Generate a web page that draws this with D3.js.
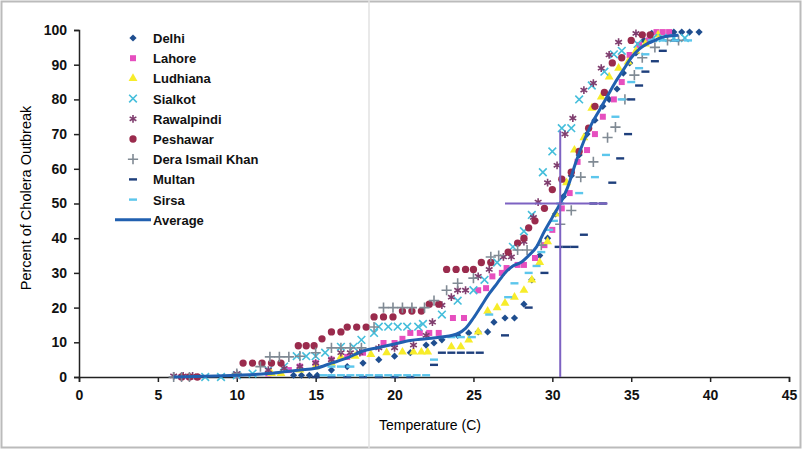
<!DOCTYPE html>
<meta charset="utf-8">
<style>
  body { margin: 0; background: #fff; }
  svg { display: block; font-family: "Liberation Sans", Arial, sans-serif; }
  .tick text { font-weight: bold; font-size: 14px; fill: #111; }
  .legend text { font-weight: bold; font-size: 13px; fill: #111; }
</style>
<body></body>
<script src="https://d3js.org/d3.v7.min.js"></script>
<script>

var width = 802, height = 449;

// temperature (C), percent of cholera outbreak
var delhi = [[13.6,0.5],[14.1,0.5],[14.6,0.5],[15.1,0.5],[16,2],[17,3],[18,4],[19,5],[20,6],[21,7],[22,9.2],[22.5,9.8],[23,10.7],[24,12],[24.7,12.7],[25.3,13],[25.9,13],[26.3,15.8],[27,17],[27.6,17],[28.2,21],[28.7,28],[29.2,35],[29.7,40],[30.2,47],[30.7,52],[31.2,58],[31.7,64],[32.2,70],[32.7,74],[33.2,78],[33.6,80],[34.1,83],[34.5,87.6],[34.9,90.5],[35.3,93.4],[35.8,97],[36.3,99],[37.7,99.4],[38.2,99.4],[38.7,99.4],[39.3,99.4]];
var lahore = [[6.5,0],[7,0],[7.5,0],[10,0.5],[12,1],[13.3,2],[14,3],[15,4],[16,5],[17,5.8],[18,7],[19.3,9.8],[20,9.8],[20.5,11],[21,12.7],[21.6,12.7],[22.2,12.7],[22.8,12.7],[23.7,17],[24.4,17],[25.3,25],[25.8,25.6],[26.2,29],[26.8,30],[27.1,31.4],[27.8,32.3],[28.2,32.3],[28.9,34.3],[29.5,38],[30,42.4],[30.6,48.6],[31.1,53],[31.6,62],[32.2,65.4],[32.7,70],[33.2,75],[33.9,80],[34.4,85],[34.9,92.8],[35.5,95.7],[36.1,97],[36.6,99.4],[37,99.4],[37.4,99.4]];
var ludhiana = [[12.2,1],[12.8,1],[14,2],[15,3],[16,4],[16.6,5.8],[17.5,6],[18.5,6.5],[19.5,7],[20.5,7.2],[21.2,7.2],[21.7,7.2],[22.1,7.2],[23.6,8.7],[24.2,8.7],[24.7,10.7],[25.3,13],[25.9,19],[26.5,20],[27,21.3],[27.6,23],[28.2,25],[28.7,28],[29.2,33],[29.7,39],[30.2,47],[30.9,56],[31.4,65.4],[32,69],[32.5,77.5],[33.1,80.7],[33.6,86.5],[34.2,89],[34.8,90.8],[35.3,94],[35.9,96],[36.7,98.6]];
var sialkot = [[8,0],[9,0],[10,0.5],[11,1],[12,2],[13,3],[13.8,6],[14.4,6],[15,6],[15.6,7],[16.6,8.7],[17.4,8.7],[17.9,10.7],[18.7,12.7],[19,14.5],[19.6,14.5],[20.2,14.5],[20.8,14.5],[21.5,14.5],[21.8,15.3],[23,18],[24,22],[25,25],[25.7,28],[26.5,33],[27.5,37.5],[28.2,42],[28.7,46.7],[29.4,59],[30,65],[30.6,71.7],[31.2,71.7],[31.7,80],[32.5,84],[33.3,88],[33.9,93],[34.4,94],[35.4,96],[36.4,97.7],[37,97.7],[37.7,97.7],[38.4,97.7]];
var rawalpindi = [[6,0.3],[6.6,0.3],[7.2,0.3],[10,1],[12,2],[13,2.5],[14,3],[15,4],[16,5],[16.6,7],[17.2,7],[17.8,7],[19,8.4],[20,8.4],[21.2,9.2],[22,12],[22.4,15.8],[23,20.7],[23.6,23],[24,25],[24.5,25],[25.3,29],[26,31],[26.9,34.6],[27.4,34.6],[28.2,39],[28.8,46],[29.1,50.4],[29.7,56],[30.3,61],[30.8,70],[31.3,74.6],[32,82.7],[32.6,84.7],[33.1,89],[33.6,92.8],[34.2,96.5],[35.3,99]];
var peshawar = [[6.5,0],[7,0],[7.5,0],[10.4,4],[11,4],[11.6,4],[12.2,4],[12.8,4],[13.9,9],[14.4,9],[14.9,9],[15.4,11],[16,13],[16.6,13],[17,14.4],[17.6,14.4],[18.2,14.4],[18.7,17.3],[19.3,17.3],[19.9,17.3],[20.5,19],[21.1,19],[21.7,19],[22.2,21],[22.8,21],[23.3,31],[23.9,31],[24.5,31],[25,31],[25.5,33],[26.1,33],[27.2,36],[27.8,38.6],[28.2,40],[28.5,43],[28.9,45],[29.5,48.6],[30,54],[30.6,57],[31.2,59],[31.7,65],[32.3,71.7],[32.7,78],[33.3,82],[33.8,90.5],[34.4,92],[35,97],[35.7,98.6],[36.2,98.6]];
var deraIsmailKhan = [[6,0],[6.5,0],[7,0],[10,1],[11.5,3],[12.1,5.8],[12.7,5.8],[13.3,5.8],[14,6],[15,7],[16,8.4],[16.6,8.4],[17.2,8.4],[17.9,8.4],[18.7,14.4],[19.3,20],[19.9,20],[20.5,20],[21.1,20],[21.9,20],[22.5,22],[23.3,25],[24,27],[25,28.5],[26.1,34.6],[26.6,35],[27.8,36.6],[28.4,36.6],[29.3,38],[30.5,44],[31.2,48],[31.8,57.6],[32.6,62],[33.5,69],[34,72],[34.6,80],[35.2,87],[35.7,92],[36.5,95],[37.3,97],[38,97]];
var multan = [[15,0],[16,0],[17,0],[18,0],[19,0],[20,0],[21,0],[22.5,3.5],[23,7],[23.6,7],[24.2,7],[24.8,7],[25.4,7],[27,12],[28.5,20],[29.5,30],[30.4,37.5],[30.9,37.5],[31.4,37.5],[32,41],[32.6,50],[33.2,50],[33.8,56],[34.3,63],[34.8,70],[35,80],[35.5,84],[35.9,88],[36.5,91],[37,94],[37.8,97]];
var sirsa = [[15.5,0.5],[16,0.5],[16.6,0.5],[17.2,0.5],[17.8,0.5],[18.4,0.5],[19,0.5],[19.6,0.5],[20.2,0.5],[20.8,0.5],[21.4,0.5],[22,0.5],[16,3],[16.6,3],[17.2,3],[22.5,5],[23,11.5],[23.6,11.5],[24.2,11.5],[24.9,11.5],[26,18],[27.2,23],[27.6,27],[28.5,30],[29,32],[29.3,36],[29.8,42.4],[30.1,45],[30.5,50],[31.7,53],[32.7,57.6],[33.4,64],[34,75],[34.4,80],[35,85],[35.5,89],[35.9,93],[36.3,97],[37,97],[37.8,97],[38.6,97]];
var average = [[6,0],[8,0.2],[10,0.5],[12,1],[13,1.5],[14,2],[15,2.5],[16,4],[17,5.5],[18,7.5],[19,8.5],[20,9.5],[21,10.5],[22,11],[23,11.5],[24,12.5],[24.5,14],[25,17],[25.5,20.5],[26,24],[26.5,27],[27,30],[27.5,32],[28,33],[28.5,35],[29,37.5],[29.5,42],[30,46],[30.5,50],[31,55],[31.5,62],[32,68],[32.5,73],[33,77],[33.5,81],[34,85],[34.5,88.5],[35,92],[35.5,94.5],[36,96],[36.5,97],[37,98],[38,98.5]];

var xTicks = [0,5,10,15,20,25,30,35,40,45];
var yTicks = [0,10,20,30,40,50,60,70,80,90,100];
var crossT = 30.5, crossP = 50;

var x = d3.scaleLinear().domain([0,45]).range([79,789]);
var y = d3.scaleLinear().domain([0,100]).range([377,30]);

var svg = d3.select("body").append("svg")
  .attr("width", width).attr("height", height);

// scan frame and fold line
svg.append("rect").attr("x",1.5).attr("y",1.5).attr("width",width-3).attr("height",height-3)
  .attr("fill","none").attr("stroke","#bbb").attr("stroke-width",2);
svg.append("line").attr("x1",369).attr("x2",369).attr("y1",0).attr("y2",height)
  .attr("stroke","#e2e2e2").attr("stroke-width",1.5);

// axes
svg.append("g").attr("transform","translate(0,377)")
  .call(d3.axisBottom(x).tickValues(xTicks).tickSize(5).tickPadding(8));
svg.append("g").attr("transform","translate(79,0)")
  .call(d3.axisLeft(y).tickValues(yTicks).tickSize(5).tickPadding(7));
svg.selectAll(".domain").attr("stroke","#222").attr("stroke-width",1.5);
svg.selectAll(".tick line").attr("stroke","#222").attr("stroke-width",1.5);

svg.append("text").attr("x",430).attr("y",430).attr("text-anchor","middle")
  .style("font-size","14px").text("Temperature (C)");
svg.append("text").attr("transform","translate(31,198) rotate(-90)").attr("text-anchor","middle")
  .style("font-size","14.5px").text("Percent of Cholera Outbreak");

var series = [
  {name:"Delhi", data:delhi, type:"diamond", color:"#1f4e8f"},
  {name:"Lahore", data:lahore, type:"square", color:"#e64fbf"},
  {name:"Ludhiana", data:ludhiana, type:"triangle", color:"#f7ec2a"},
  {name:"Sialkot", data:sialkot, type:"x", color:"#45bedb"},
  {name:"Rawalpindi", data:rawalpindi, type:"asterisk", color:"#7f3d6e"},
  {name:"Peshawar", data:peshawar, type:"circle", color:"#9a2b4d"},
  {name:"Dera Ismail Khan", data:deraIsmailKhan, type:"plus", color:"#808a94"},
  {name:"Multan", data:multan, type:"dash", color:"#1e3f7c"},
  {name:"Sirsa", data:sirsa, type:"dash", color:"#5cc6ec"}
];

var symbolTypes = {
  diamond: [d3.symbolSquare, 26, true, 45],
  square: [d3.symbolSquare, 36, true, 0],
  triangle: [d3.symbolTriangle, 34, true, 0],
  circle: [d3.symbolCircle, 42, true, 0],
  x: [d3.symbolX, 40, false, 0],
  asterisk: [d3.symbolAsterisk, 42, false, 0],
  plus: [d3.symbolPlus, 36, false, 0]
};

function drawMarker(g, s) {
  if (s.type === "dash") {
    g.append("rect").attr("x",-4).attr("y",-1.2).attr("width",8).attr("height",2.4).attr("fill",s.color);
    return;
  }
  var t = symbolTypes[s.type];
  var p = g.append("path").attr("d", d3.symbol().type(t[0]).size(t[1])())
    .attr("transform","rotate(" + t[3] + ")");
  if (t[2]) p.attr("fill", s.color);
  else p.attr("fill","none").attr("stroke", s.color).attr("stroke-width",1.6);
}

var plot = svg.append("g");
series.forEach(function(s) {
  plot.append("g").selectAll("g").data(s.data).enter().append("g")
    .attr("transform", function(d) { return "translate(" + x(d[0]) + "," + y(d[1]) + ")"; })
    .each(function() { drawMarker(d3.select(this), s); });
});

// average line
var line = d3.line().x(function(d){ return x(d[0]); }).y(function(d){ return y(d[1]); }).curve(d3.curveMonotoneX);
plot.append("path").datum(average).attr("d", line)
  .attr("fill","none").attr("stroke","#2160b0").attr("stroke-width",3);

// 50% crosshair
svg.append("line").attr("x1",x(crossT)).attr("x2",x(crossT)).attr("y1",y(0)).attr("y2",y(71))
  .attr("stroke","#7d62c2").attr("stroke-width",2);
svg.append("line").attr("x1",x(27)).attr("x2",x(33.5)).attr("y1",y(crossP)).attr("y2",y(crossP))
  .attr("stroke","#7d62c2").attr("stroke-width",2);

// legend
var legend = svg.append("g").attr("class","legend");
series.forEach(function(s, i) {
  var row = legend.append("g").attr("transform","translate(0," + (38 + i * 20.2) + ")");
  drawMarker(row.append("g").attr("transform","translate(133,0)"), s);
  row.append("text").attr("x",153).attr("y",5).text(s.name);
});
var avgRow = legend.append("g").attr("transform","translate(0," + (38 + 9 * 20.2) + ")");
avgRow.append("line").attr("x1",115).attr("x2",151).attr("stroke","#2160b0").attr("stroke-width",3);
avgRow.append("text").attr("x",153).attr("y",5).text("Average");

</script>
